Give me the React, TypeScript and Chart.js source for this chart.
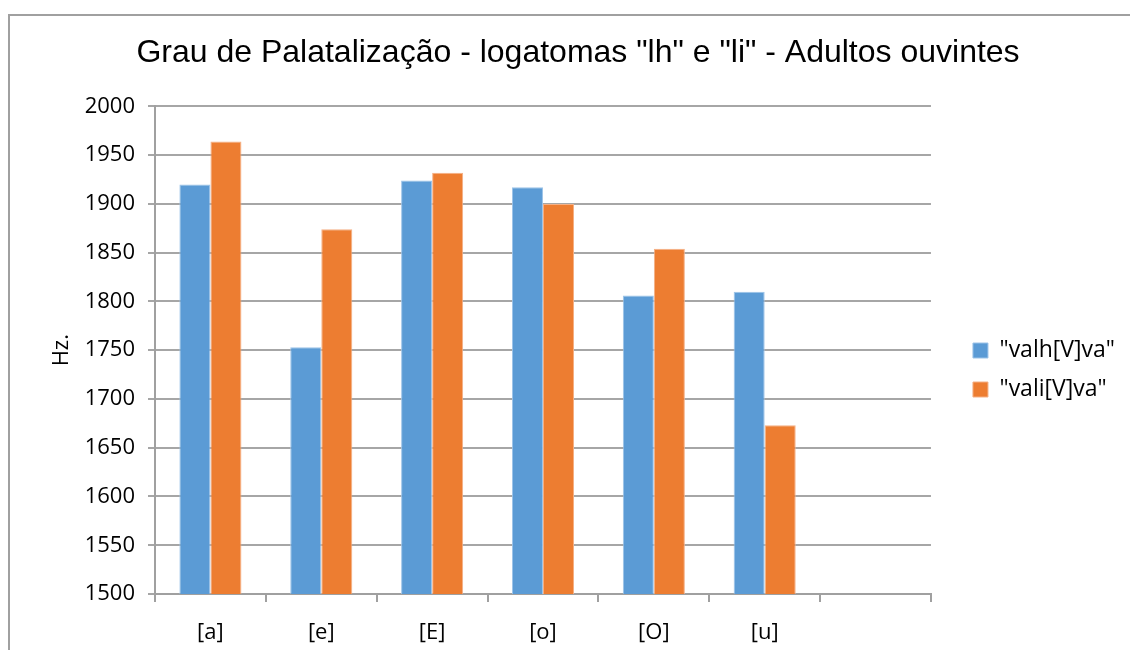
import React, { useEffect, useRef } from "react";
import { Chart, registerables } from "chart.js";

Chart.register(...registerables);

const categories = ["[a]", "[e]", "[E]", "[o]", "[O]", "[u]", ""];
const seriesLh = [1920, 1753, 1924, 1917, 1806, 1810, null];
const seriesLi = [1964, 1874, 1932, 1900, 1854, 1673, null];
const seriesNames = ['"valh[V]va"', '"vali[V]va"'];
const titleText = 'Grau de Palatalização - logatomas "lh" e "li" - Adultos ouvintes';
const yTitle = "Hz.";
const yMin = 1500;
const yMax = 2000;
const yStep = 50;

export default function App() {
  const ref = useRef<HTMLCanvasElement | null>(null);

  useEffect(() => {
    document.body.style.overflow = "hidden";
    const ctx = ref.current!;
    const chart = new Chart(ctx, {
      type: "bar",
      data: {
        labels: categories,
        datasets: [
          {
            label: seriesNames[0],
            data: seriesLh,
            backgroundColor: "#5B9BD5",
            borderColor: "#9cc3e8",
            borderWidth: 1,
            categoryPercentage: 0.56,
            barPercentage: 1,
          },
          {
            label: seriesNames[1],
            data: seriesLi,
            backgroundColor: "#ED7D31",
            borderColor: "#f5b085",
            borderWidth: 1,
            categoryPercentage: 0.56,
            barPercentage: 1,
          },
        ],
      },
      options: {
        animation: false,
        responsive: false,
        maintainAspectRatio: false,
        layout: { padding: { left: 31, right: 5, top: 34, bottom: 4 } },
        plugins: {
          title: {
            display: true,
            text: titleText,
            color: "#000",
            font: { family: "Liberation Sans", size: 32, weight: "normal" },
            padding: { top: 0, bottom: 34 },
          },
          legend: {
            position: "right",
            title: {
              display: true,
              text: " ",
              font: { size: 10 },
              padding: 24,
            },
            labels: {
              color: "#000",
              boxWidth: 15,
              boxHeight: 15,
              padding: 16,
              font: { family: "Open Sans", size: 23 },
            },
          },
          tooltip: { enabled: false },
        },
        scales: {
          x: {
            offset: true,
            afterFit: (scale: any) => {
              scale.height = 52;
            },
            grid: {
              offset: true,
              drawOnChartArea: false,
              color: "#a0a0a0",
              lineWidth: 2,
              tickLength: 8,
            },
            border: { color: "#a0a0a0", width: 2 },
            ticks: {
              color: "#000",
              font: { family: "Open Sans", size: 22 },
              padding: 18,
            },
          },
          y: {
            min: yMin,
            max: yMax,
            afterFit: (scale: any) => {
              scale.width = 124;
            },
            ticks: {
              stepSize: yStep,
              color: "#000",
              font: { family: "Open Sans", size: 22 },
              padding: 13,
              callback: (v: any) => String(v),
            },
            grid: {
              color: "#a6a6a6",
              lineWidth: 2,
              tickLength: 7,
            },
            border: { color: "#a0a0a0", width: 2 },
            title: {
              display: true,
              text: yTitle,
              color: "#000",
              font: { family: "Open Sans", size: 22 },
              padding: { top: 18, bottom: 0 },
            },
          },
          gap: {
            type: "linear",
            position: "right",
            display: true,
            afterFit: (scale: any) => {
              scale.width = 26;
            },
            grid: { display: false, drawOnChartArea: false },
            border: { display: false },
            ticks: { display: false },
          },
        },
      },
    });
    return () => chart.destroy();
  }, []);

  return (
    <div>
      <div
        style={{
          position: "fixed",
          left: 8,
          top: 14,
          width: 1200,
          height: 700,
          borderLeft: "2px solid #a0a0a0",
          borderTop: "2px solid #a0a0a0",
          boxSizing: "border-box",
        }}
      />
      <canvas
        ref={ref}
        width={1130}
        height={650}
        style={{ position: "fixed", left: 0, top: 0, width: 1130, height: 650 }}
      />
    </div>
  );
}
